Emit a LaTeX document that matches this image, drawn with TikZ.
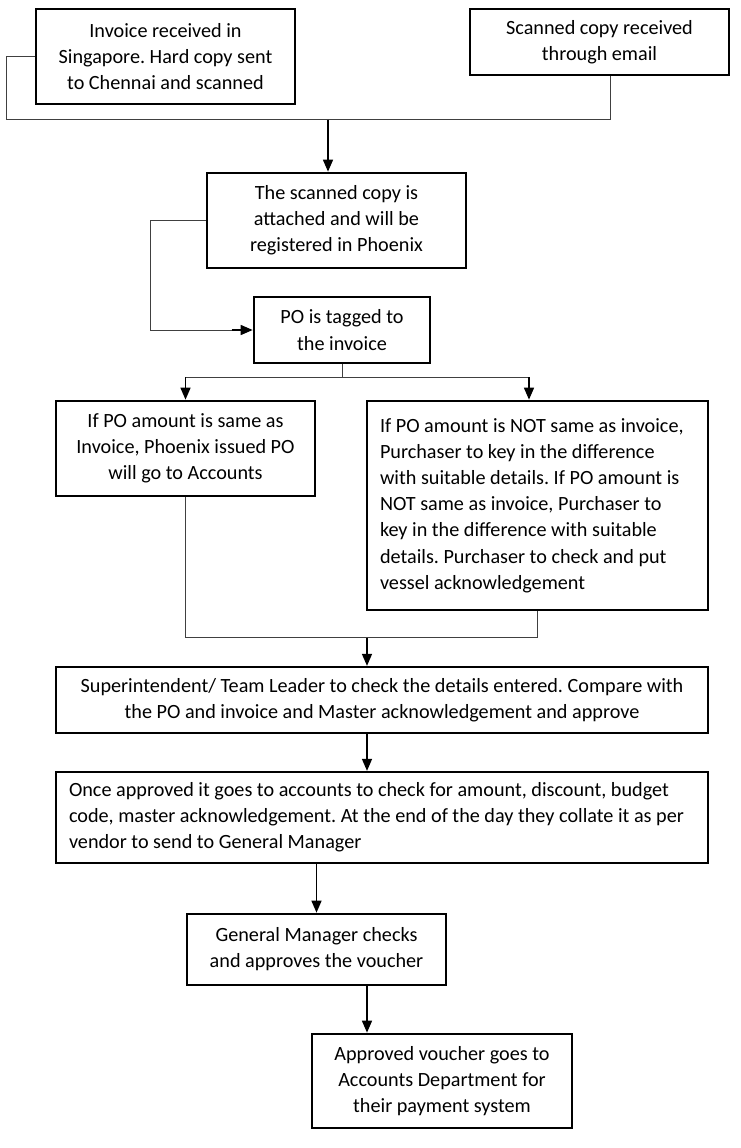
\documentclass[tikz,border=0pt]{standalone}
\usepackage{fontspec}
\setmainfont{Carlito}
\usepackage{tikz}
\usetikzlibrary{arrows.meta,positioning,calc}
\frenchspacing
\hyphenpenalty=10000

\begin{document}
\begin{tikzpicture}[
  x=1pt, y=1pt,
  box/.style={rectangle, draw, line width=2.7pt, inner xsep=0pt, inner ysep=0pt, align=flush center, font=\fontsize{20.2}{26.2}\selectfont},
  wbox/.style={box, align=flush left, inner xsep=13pt},
  link/.style={draw=black!75, line width=0.9pt},
  arrow/.style={-{Triangle[width=10pt,length=12pt]}, line width=1.5pt}
]
\useasboundingbox (0,0) rectangle (741,-1148);

\node[box, text width=259pt, minimum height=95pt] (recv) at (165.5,-56.5) {Invoice received in\\Singapore. Hard copy sent\\to Chennai and scanned};
\node[box, text width=259pt, minimum height=66pt] (email) at (599.5,-42) {Scanned copy received\\through email};

\node[box, text width=259pt, minimum height=95pt] (scan) at (336.5,-220.5) {The scanned copy is\\attached and will be\\registered in Phoenix};
\node[box, text width=176pt, minimum height=66pt] (tag) at (342,-330) {PO is tagged to\\the invoice};

\node[box, text width=259pt, minimum height=95pt] (same) at (185.5,-448.5) {If PO amount is same as\\Invoice, Phoenix issued PO\\will go to Accounts};
\node[wbox, text width=315pt, minimum height=209pt] (diff) at (537.5,-505.5) {If PO amount is NOT same as invoice,\\Purchaser to key in the difference\\with suitable details. If PO amount is\\NOT same as invoice, Purchaser to\\key in the difference with suitable\\details. Purchaser to check and put\\vessel acknowledgement};

\node[box, text width=652pt, minimum height=66pt, line width=2.3pt] (check) at (382,-700) {Superintendent/ Team Leader to check the details entered. Compare with\\the PO and invoice and Master acknowledgement and approve};
\node[wbox, text width=626pt, minimum height=91pt, line width=2.3pt] (acct) at (382,-817.5) {Once approved it goes to accounts to check for amount, discount, budget\\code, master acknowledgement. At the end of the day they collate it as per\\vendor to send to General Manager};

\node[box, text width=259pt, minimum height=71pt] (gm) at (316.5,-949.5) {General Manager checks\\and approves the voucher};
\node[box, text width=260pt, minimum height=94pt] (pay) at (442,-1081) {Approved voucher goes to\\Accounts Department for\\their payment system};

\coordinate (join) at ([xshift=-8.5pt, yshift=52pt]scan.north);
\draw[link] (recv.west) -- ++(-28pt,0) |- (join) -| ([xshift=10.5pt]email.south);
\draw[arrow] (join) -- (join |- scan.north);

\draw[link] (scan.west) -- ++(-55pt,0) |- ([xshift=-20pt]tag.west);
\draw[arrow] ([xshift=-21pt]tag.west) -- (tag.west);

\coordinate (split) at ([yshift=-13pt]tag.south);
\coordinate (fin) at ([xshift=-8.5pt]diff.north);
\draw[link] (tag.south) -- (split);
\draw[link] (split -| same.north) -- (split -| fin);
\draw[arrow] (split -| same.north) -- (same.north);
\draw[arrow] (split -| fin) -- (fin);

\coordinate (merge) at ([xshift=-15pt, yshift=28pt]check.north);
\draw[link] (same.south) |- (merge) -| (diff.south);
\draw[arrow] (merge) -- (merge |- check.north);
\draw[arrow] (merge |- check.south) -- (merge |- acct.north);
\draw[arrow] (gm.north |- acct.south) -- (gm.north);
\draw[arrow] (merge |- gm.south) -- (merge |- pay.north);

\end{tikzpicture}
\end{document}
